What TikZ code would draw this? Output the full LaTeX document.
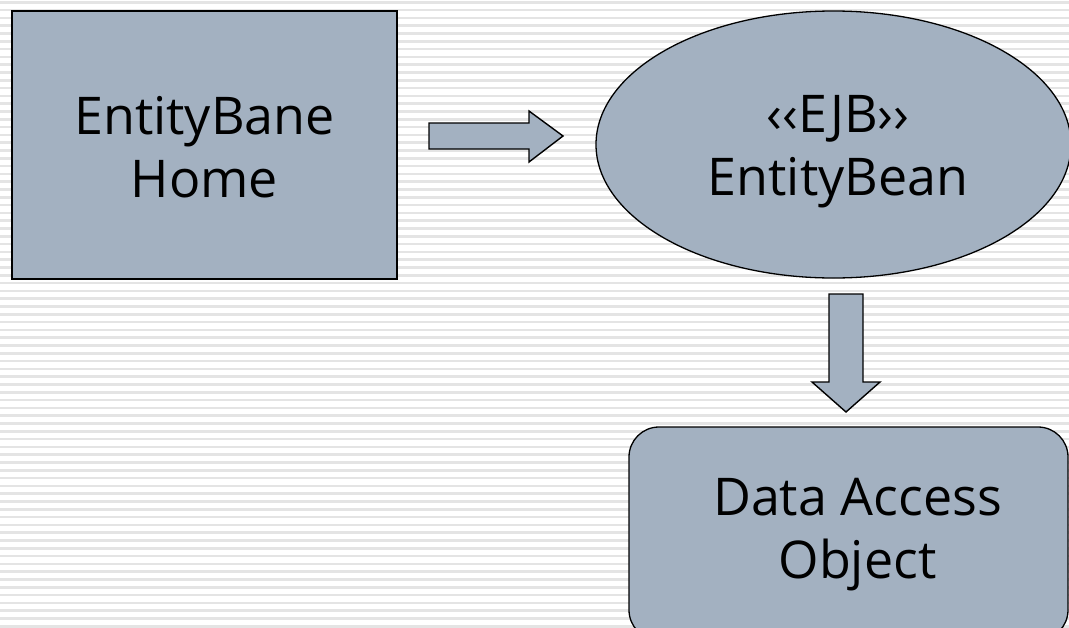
\documentclass[tikz,border=0pt]{standalone}
\usepackage{fontspec}
\setmainfont{Open Sans}
\usetikzlibrary{shapes.geometric,shapes.arrows}
\definecolor{boxfill}{HTML}{A3B1C1}
\definecolor{stripe}{HTML}{E4E4E4}
\tikzset{
  shape box/.style={draw=black, line width=1.6pt, fill=boxfill},
  thick arrow/.style={draw=black, line width=1.4pt, fill=boxfill, line join=miter},
  label text/.style={font=\fontsize{52}{63}\selectfont, align=center, text=black, anchor=base, inner sep=0pt},
}
\begin{document}
\begin{tikzpicture}[x=1pt,y=-1pt]
  \useasboundingbox (0,0) rectangle (1069,627);
  % lined background
  \fill[white] (0,0) rectangle (1069,627);
  \foreach \k in {0,...,80}{
    \fill[stripe] (0,{1+\k*7.8}) rectangle (1069,{3.6+\k*7.8});
  }
  \begin{scope}
    \clip (0,0) rectangle (1069,627);
    % home interface
    \draw[shape box] (12,11) rectangle (397,279);
    \node[label text] (home) at (204.5,197) {EntityBane\\Home};
    % entity bean
    \draw[shape box, line width=1.3pt] (833.5,144.5) ellipse [x radius=237.5, y radius=133.5];
    \node[label text] (bean) at (838,195) {‹‹EJB››\\EntityBean};
    % data access object
    \draw[shape box, line width=1.3pt, rounded corners=30] (629,427) rectangle (1068,640);
    \node[label text] (dao) at (857.5,578) {Data Access\\Object};
    % block arrows
    \draw[thick arrow] (429,123) -- (529,123) -- (529,111) -- (563,136) -- (529,162) -- (529,149) -- (429,149) -- cycle;
    \draw[thick arrow] (829,294) -- (863,294) -- (863,382) -- (880,382) -- (846,412) -- (812,382) -- (829,382) -- cycle;
  \end{scope}
\end{tikzpicture}
\end{document}
